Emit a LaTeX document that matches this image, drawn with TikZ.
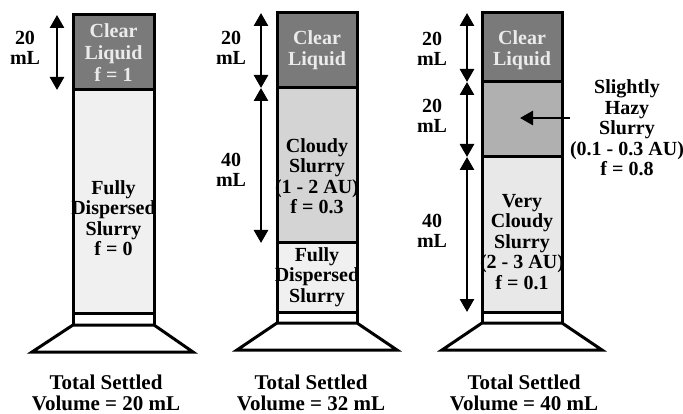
\documentclass[tikz,border=0pt]{standalone}
\usepackage{fontspec}
\setmainfont{Liberation Serif}
\usetikzlibrary{arrows.meta}
\definecolor{clearc}{HTML}{7A7A7A}
\definecolor{hazyc}{HTML}{B0B0B0}
\definecolor{cloudyc}{HTML}{D4D4D4}
\definecolor{vcloudyc}{HTML}{E8E8E8}
\definecolor{dispc}{HTML}{F0F0F0}
\tikzset{
  wall/.style={line width=3pt, line join=miter},
  sep/.style={line width=3pt},
  lbl/.style={font=\fontsize{20}{20.5}\selectfont\bfseries, align=center, inner sep=0pt},
  lblw/.style={lbl, text=white!92!black},
  caption/.style={lbl, font=\fontsize{21}{21}\selectfont\bfseries},
  dimarrow/.style={line width=2.6pt, {Triangle[width=14pt,length=13pt]}-{Triangle[width=14pt,length=13pt]}},
  ptrarrow/.style={line width=2.6pt, -{Triangle[width=14pt,length=13pt]}},
}
\begin{document}
\begin{tikzpicture}[x=1pt,y=-1pt]
\useasboundingbox (0,0) rectangle (683,414);
% ---------- Cylinder 1 ----------
\fill[clearc] (73,15) rectangle (154,90);
\fill[dispc] (73,90) rectangle (154,313);
\fill[white] (73,313) rectangle (154,325);
\draw[sep] (73,90) -- (154,90);
\draw[sep] (73,313) -- (154,313);
\draw[wall] (73,325) -- (73,15) -- (154,15) -- (154,325);
\draw[wall] (73,325) -- (154,325) -- (193,352) -- (32,352) -- cycle;
\node[lblw, font=\fontsize{20}{22}\selectfont\bfseries] (c1clear) at (113.5,53) {Clear\\Liquid\\f = 1};
\node[lbl] (c1disp) at (113.5,218) {Fully\\Dispersed\\Slurry\\f = 0};
\coordinate (c1a) at (57,15);
\coordinate (c1b) at (57,90);
\draw[dimarrow] (c1a) -- (c1b);
\node[lbl] (c1l) at (25,48) {20\\mL};
\node[caption] (c1t) at (106,393) {Total Settled\\Volume = 20 mL};
% ---------- Cylinder 2 ----------
\fill[clearc] (277,13) rectangle (357,88);
\fill[cloudyc] (277,88) rectangle (357,243);
\fill[dispc] (277,243) rectangle (357,312);
\fill[white] (277,312) rectangle (357,323);
\draw[sep] (277,88) -- (357,88);
\draw[sep] (277,243) -- (357,243);
\draw[sep] (277,312) -- (357,312);
\draw[wall] (277,323) -- (277,13) -- (357,13) -- (357,323);
\draw[wall] (277,323) -- (357,323) -- (397,350) -- (237,350) -- cycle;
\node[lblw] (c2clear) at (317,50) {Clear\\Liquid};
\node[lbl] (c2cloud) at (317,176) {Cloudy\\Slurry\\(1 - 2 AU)\\f = 0.3};
\node[lbl] (c2disp) at (317,277) {Fully\\Dispersed\\Slurry};
\coordinate (c2a) at (261,13);
\coordinate (c2b) at (261,88);
\coordinate (c2c) at (261,243);
\draw[dimarrow] (c2a) -- (c2b);
\draw[dimarrow] (c2b) -- (c2c);
\node[lbl] (c2l1) at (231,48) {20\\mL};
\node[lbl] (c2l2) at (231,170) {40\\mL};
\node[caption] (c2t) at (311,393) {Total Settled\\Volume = 32 mL};
% ---------- Cylinder 3 ----------
\fill[clearc] (482,13) rectangle (562,82);
\fill[hazyc] (482,82) rectangle (562,157);
\fill[vcloudyc] (482,157) rectangle (562,312);
\fill[white] (482,312) rectangle (562,323);
\draw[sep] (482,82) -- (562,82);
\draw[sep] (482,157) -- (562,157);
\draw[sep] (482,312) -- (562,312);
\draw[wall] (482,323) -- (482,13) -- (562,13) -- (562,323);
\draw[wall] (482,323) -- (562,323) -- (602,350) -- (442,350) -- cycle;
\node[lblw] (c3clear) at (522,50) {Clear\\Liquid};
\node[lbl] (c3vc) at (522,242) {Very\\Cloudy\\Slurry\\(2 - 3 AU)\\f = 0.1};
\coordinate (c3a) at (467,13);
\coordinate (c3b) at (467,82);
\coordinate (c3c) at (467,157);
\coordinate (c3d) at (467,312);
\draw[dimarrow] (c3a) -- (c3b);
\draw[dimarrow] (c3b) -- (c3c);
\draw[dimarrow] (c3c) -- (c3d);
\node[lbl] (c3l1) at (432,49) {20\\mL};
\node[lbl] (c3l2) at (432,116) {20\\mL};
\node[lbl] (c3l3) at (432,231) {40\\mL};
\node[lbl] (hazy) at (627,128) {Slightly\\Hazy\\Slurry\\(0.1 - 0.3 AU)\\f = 0.8};
\coordinate (hazytip) at (520,118);
\draw[ptrarrow] (hazy.west |- hazytip) -- (hazytip);
\node[caption] (c3t) at (524,393) {Total Settled\\Volume = 40 mL};
\end{tikzpicture}
\end{document}
